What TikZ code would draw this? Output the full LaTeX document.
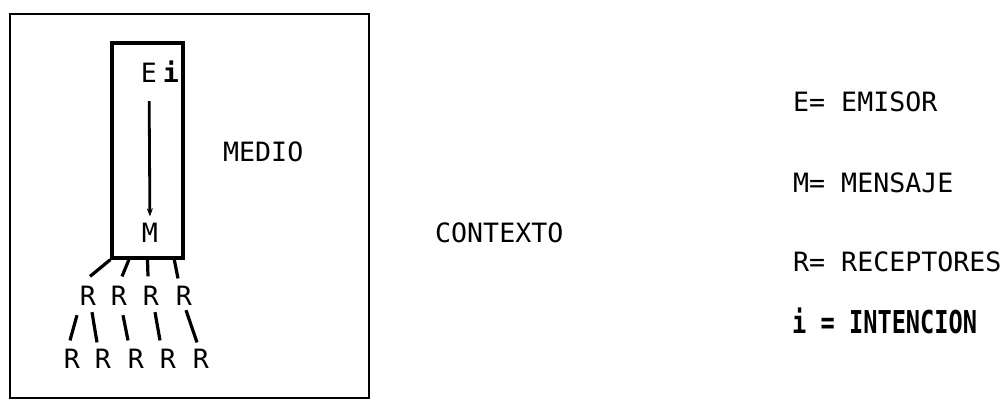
\documentclass[tikz,border=0pt]{standalone}
\usepackage{fontspec}
\usepackage{graphicx}
\usetikzlibrary{calc,arrows.meta}
\newfontfamily\maquina{DejaVu Sans Mono}

\begin{document}
\begin{tikzpicture}[x=1pt,y=-1pt,
    letra/.style={font=\maquina\fontsize{26.6}{30}\selectfont, inner sep=0pt, anchor=base},
    rama/.style={line width=3.2pt}]
    \useasboundingbox (0,0) rectangle (1007,409);

    % contexto
    \draw[line width=2.4pt] (10,14) rectangle (369,398);
    \node[draw, line width=3.4pt, minimum width=71pt, minimum height=215pt, inner sep=0pt] (canal) at (147.5,150.5) {};

    \node[letra] (emisor) at (149,83) {E};
    \node[letra, font=\maquina\bfseries\fontsize{26.6}{30}\selectfont] (intencion) at (171,83) {i};
    \node[letra] (mensaje) at (150,242) {M};
    \draw[line width=2.8pt, -{Stealth[length=8pt,width=6pt]}, shorten <=18pt, shorten >=6pt] (emisor) -- (mensaje);

    \node[letra, anchor=base west] (medio) at (223,162) {MEDIO};
    \node[letra, anchor=base west] (contexto) at (435,242) {CONTEXTO};

    \foreach \x [count=\n] in {88,119,151,184}
        \node[letra] (r\n) at (\x,305) {R};
    \foreach \x [count=\n] in {72,103,136,168,201}
        \node[letra] (s\n) at (\x,368) {R};

    \draw[rama] (canal.south west) -- ([shift={(2,-9)}]r1.north);
    \draw[rama] ($(canal.south west)!0.25!(canal.south east)$) -- ([shift={(3,-9)}]r2.north);
    \draw[rama] ($(canal.south west)!0.5!(canal.south east)$) -- ([shift={(-3,-9)}]r3.north);
    \draw[rama] ($(canal.south west)!0.86!(canal.south east)$) -- ([shift={(-6,-7)}]r4.north);

    \draw[rama] ([shift={(-11,10)}]r1.south) -- ([shift={(-2,-8)}]s1.north);
    \draw[rama] ([shift={(4,7)}]r1.south) -- ([shift={(-6,-6)}]s2.north);
    \draw[rama] ([shift={(4,10)}]r2.south) -- ([shift={(-8,-8)}]s3.north);
    \draw[rama] ([shift={(4,7)}]r3.south) -- ([shift={(-8,-8)}]s4.north);
    \draw[rama] ([shift={(2,5)}]r4.south) -- ([shift={(-4,-6)}]s5.north);

    % leyenda
    \node[letra, anchor=base west] (leyE) at (793,112) {E= EMISOR};
    \node[letra, anchor=base west] (leyM) at (793,193) {M= MENSAJE};
    \node[letra, anchor=base west] (leyR) at (793,271) {R= RECEPTORES};
    \node[anchor=base west, inner sep=0pt, font=\maquina\bfseries\fontsize{31.5}{34}\selectfont] (leyI) at (792,333) {\scalebox{0.75}[1]{i = INTENCION}};

\end{tikzpicture}
\end{document}
